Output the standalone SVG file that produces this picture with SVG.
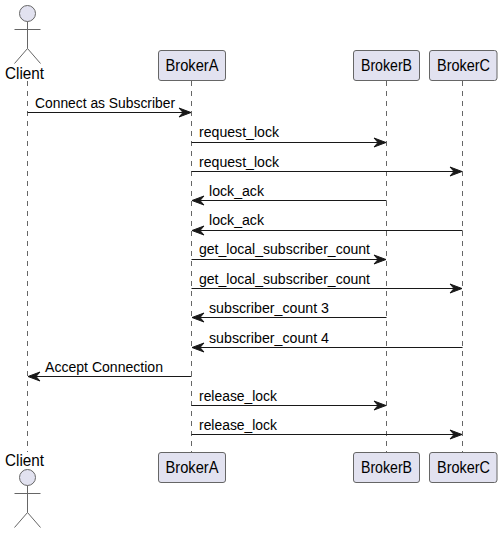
<svg xmlns="http://www.w3.org/2000/svg" width="502" height="533" viewBox="0 0 502 533">
<style>
text{font-family:"Liberation Sans",Arial,sans-serif;fill:#000}
.m{font-size:14px}
.n{font-size:16px}
.life{stroke:#666;stroke-width:1;stroke-dasharray:5,5;fill:none}
.box{fill:#E2E2F0;stroke:#666;stroke-width:1}
.act{fill:none;stroke:#666;stroke-width:1}
.head{fill:#E2E2F0;stroke:#666;stroke-width:1}
.msg{stroke:#181818;stroke-width:1;fill:none}
.arr{fill:#181818;stroke:#181818;stroke-width:1}
</style>
<defs>
<polygon id="ar" class="arr" points="-12,-4.5 0,0 -12,4.5 -8,0"/>
<polygon id="al" class="arr" points="12,-4.5 0,0 12,4.5 8,0"/>
<g id="actor"><circle class="head" cx="0" cy="0" r="8"/><path class="act" d="M0,8V35M-13,16H13M0,35L-13,50M0,35L13,50"/></g>
</defs>
<g id="lifelines">
<path class="life" d="M27.5,81V452"/>
<path class="life" d="M191.5,81V452"/>
<path class="life" d="M386.5,81V452"/>
<path class="life" d="M462.5,81V452"/>
</g>
<g id="client-top"><use href="#actor" x="27.5" y="13.5"/><text class="n" x="5" y="79" textLength="39" lengthAdjust="spacingAndGlyphs">Client</text></g>
<g id="client-bottom"><use href="#actor" x="27.5" y="477.5"/><text class="n" x="5" y="466" textLength="39" lengthAdjust="spacingAndGlyphs">Client</text></g>
<g id="brokera-top"><rect class="box" x="158.5" y="50.5" width="67" height="30" rx="2.5"/><text class="n" x="165.5" y="71" textLength="53" lengthAdjust="spacingAndGlyphs">BrokerA</text></g>
<g id="brokerb-top"><rect class="box" x="353.5" y="50.5" width="66" height="30" rx="2.5"/><text class="n" x="361" y="71" textLength="51" lengthAdjust="spacingAndGlyphs">BrokerB</text></g>
<g id="brokerc-top"><rect class="box" x="429.5" y="50.5" width="67.5" height="30" rx="2.5"/><text class="n" x="437" y="71" textLength="53" lengthAdjust="spacingAndGlyphs">BrokerC</text></g>
<g id="brokera-bottom"><rect class="box" x="158.5" y="452.5" width="67" height="30" rx="2.5"/><text class="n" x="165.5" y="473" textLength="53" lengthAdjust="spacingAndGlyphs">BrokerA</text></g>
<g id="brokerb-bottom"><rect class="box" x="353.5" y="452.5" width="66" height="30" rx="2.5"/><text class="n" x="361" y="473" textLength="51" lengthAdjust="spacingAndGlyphs">BrokerB</text></g>
<g id="brokerc-bottom"><rect class="box" x="429.5" y="452.5" width="67.5" height="30" rx="2.5"/><text class="n" x="437" y="473" textLength="53" lengthAdjust="spacingAndGlyphs">BrokerC</text></g>
<g id="connectors">
<path class="msg" d="M27.5,112.5H191"/><use href="#ar" x="191" y="112.5"/>
<path class="msg" d="M191.5,142.5H386"/><use href="#ar" x="386" y="142.5"/>
<path class="msg" d="M191.5,171.5H462"/><use href="#ar" x="462" y="171.5"/>
<path class="msg" d="M192,200.5H386.5"/><use href="#al" x="192" y="200.5"/>
<path class="msg" d="M192,230.5H462.5"/><use href="#al" x="192" y="230.5"/>
<path class="msg" d="M191.5,259.5H386"/><use href="#ar" x="386" y="259.5"/>
<path class="msg" d="M191.5,288.5H462"/><use href="#ar" x="462" y="288.5"/>
<path class="msg" d="M192,317.5H386.5"/><use href="#al" x="192" y="317.5"/>
<path class="msg" d="M192,347.5H462.5"/><use href="#al" x="192" y="347.5"/>
<path class="msg" d="M28,376.5H191.5"/><use href="#al" x="28" y="376.5"/>
<path class="msg" d="M191.5,405.5H386"/><use href="#ar" x="386" y="405.5"/>
<path class="msg" d="M191.5,434.5H462"/><use href="#ar" x="462" y="434.5"/>
<text class="m" x="35" y="108" textLength="140" lengthAdjust="spacingAndGlyphs">Connect as Subscriber</text>
<text class="m" x="199" y="137" textLength="80" lengthAdjust="spacingAndGlyphs">request_lock</text>
<text class="m" x="199" y="167" textLength="80" lengthAdjust="spacingAndGlyphs">request_lock</text>
<text class="m" x="209" y="196" textLength="55" lengthAdjust="spacingAndGlyphs">lock_ack</text>
<text class="m" x="209" y="225" textLength="55" lengthAdjust="spacingAndGlyphs">lock_ack</text>
<text class="m" x="199" y="254" textLength="171" lengthAdjust="spacingAndGlyphs">get_local_subscriber_count</text>
<text class="m" x="199" y="284" textLength="171" lengthAdjust="spacingAndGlyphs">get_local_subscriber_count</text>
<text class="m" x="209" y="313" textLength="120" lengthAdjust="spacingAndGlyphs">subscriber_count 3</text>
<text class="m" x="209" y="343" textLength="120" lengthAdjust="spacingAndGlyphs">subscriber_count 4</text>
<text class="m" x="45" y="372" textLength="118" lengthAdjust="spacingAndGlyphs">Accept Connection</text>
<text class="m" x="199" y="401" textLength="78" lengthAdjust="spacingAndGlyphs">release_lock</text>
<text class="m" x="199" y="430" textLength="78" lengthAdjust="spacingAndGlyphs">release_lock</text>
</g>
</svg>
